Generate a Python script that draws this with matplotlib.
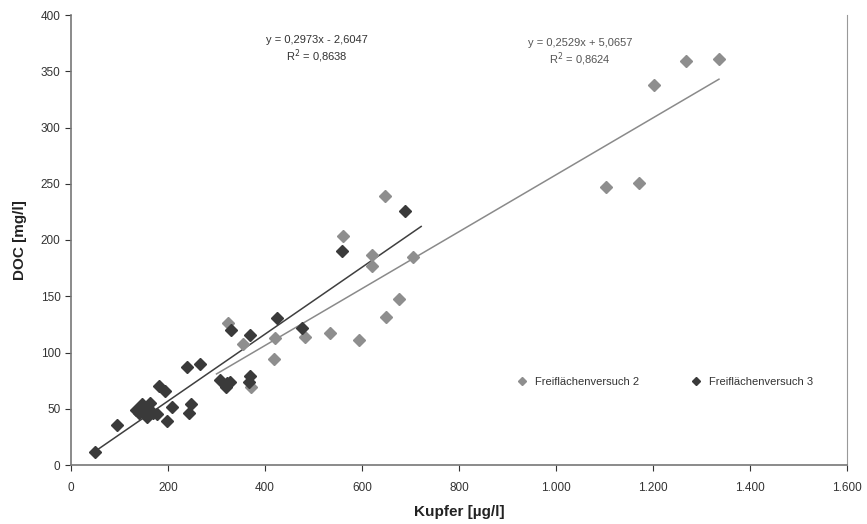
import matplotlib
matplotlib.use("Agg")
import matplotlib.pyplot as plt
from matplotlib.ticker import FuncFormatter
import numpy as np

plt.rcParams['font.family'] = ['Liberation Sans', 'DejaVu Sans']

# Freiflächenversuch 2 (light gray)
x2 = [324, 355, 371, 420, 419, 482, 534, 561, 594, 620, 620, 647, 649, 676, 706,
      1103, 1172, 1202, 1268, 1336]
y2 = [126, 108, 69, 113, 94, 114, 117, 204, 111, 187, 177, 239, 132, 148, 185,
      247, 251, 338, 359, 361]

# Freiflächenversuch 3 (dark)
x3 = [50, 94, 135, 140, 146, 152, 156, 163, 170, 177, 182, 194, 197, 208, 240,
      244, 247, 266, 307, 320, 321, 328, 329, 366, 369, 369, 425, 476, 558, 689]
y3 = [12, 36, 49, 46, 54, 49, 43, 55, 46, 45, 70, 66, 39, 52, 87,
      46, 54, 90, 76, 69, 73, 74, 120, 74, 79, 116, 131, 122, 190, 226]

labels = ["Freiflächenversuch 2", "Freiflächenversuch 3"]

# trendline coefficients (slope, intercept) and x-range
trend2 = (0.2529, 5.0657)
trend3 = (0.2973, -2.6047)
trend2_range = [300, 1336]
trend3_range = [50, 722]

eq2 = ["y = 0,2529x + 5,0657", "R$^2$ = 0,8624"]
eq3 = ["y = 0,2973x - 2,6047", "R$^2$ = 0,8638"]

c2 = "#8e8e8e"
c3 = "#3a3a3a"

fig = plt.figure(figsize=(8.67, 5.24), dpi=100)
ax = fig.add_axes([71/867, 1-465/524, 776/867, 450/524])

xr2 = np.array(trend2_range, dtype=float)
xr3 = np.array(trend3_range, dtype=float)
ax.plot(xr2, trend2[0]*xr2 + trend2[1], color="#8a8a8a", lw=1.1, zorder=2)
ax.plot(xr3, trend3[0]*xr3 + trend3[1], color="#3f3f3f", lw=1.1, zorder=2)

ax.plot(x2, y2, 'D', color=c2, ms=6, mec=c2, ls='none', label=labels[0], zorder=3)
ax.plot(x3, y3, 'D', color=c3, ms=6, mec=c3, ls='none', label=labels[1], zorder=4)

ax.set_xlim(0, 1600)
ax.set_ylim(0, 400)
ax.set_xticks(np.arange(0, 1601, 200))
ax.set_yticks(np.arange(0, 401, 50))

def fmt(v, pos):
    v = int(round(v))
    return f"{v:,}".replace(",", ".")
ax.xaxis.set_major_formatter(FuncFormatter(fmt))

ax.tick_params(axis='both', labelsize=8.5, colors="#333333", length=4, direction='out')
ax.tick_params(axis='x', pad=8)
ax.spines['top'].set_visible(False)
for s in ['left', 'bottom']:
    ax.spines[s].set_color("#777777")
    ax.spines[s].set_linewidth(1.2)
ax.spines['right'].set_color("#999999")
ax.spines['right'].set_linewidth(0.8)

ax.set_xlabel("Kupfer [µg/l]", fontsize=11, fontweight='bold', color="#222222", labelpad=8)
ax.set_ylabel("DOC [mg/l]", fontsize=11, fontweight='bold', color="#222222", labelpad=10)

ax.text(507, 378, eq3[0], ha='center', va='center', fontsize=8, color="#333333")
ax.text(507, 363, eq3[1], ha='center', va='center', fontsize=8, color="#333333")
ax.text(1049, 375, eq2[0], ha='center', va='center', fontsize=8, color="#555555")
ax.text(1049, 361, eq2[1], ha='center', va='center', fontsize=8, color="#555555")

ax.legend(loc='center', bbox_to_anchor=(0.765, 0.185), ncol=2, frameon=False,
          fontsize=8, markerscale=0.65, handlelength=1.0, handletextpad=0.7,
          columnspacing=4.6, labelcolor="#333333")

fig.savefig("out.png", dpi=100)
